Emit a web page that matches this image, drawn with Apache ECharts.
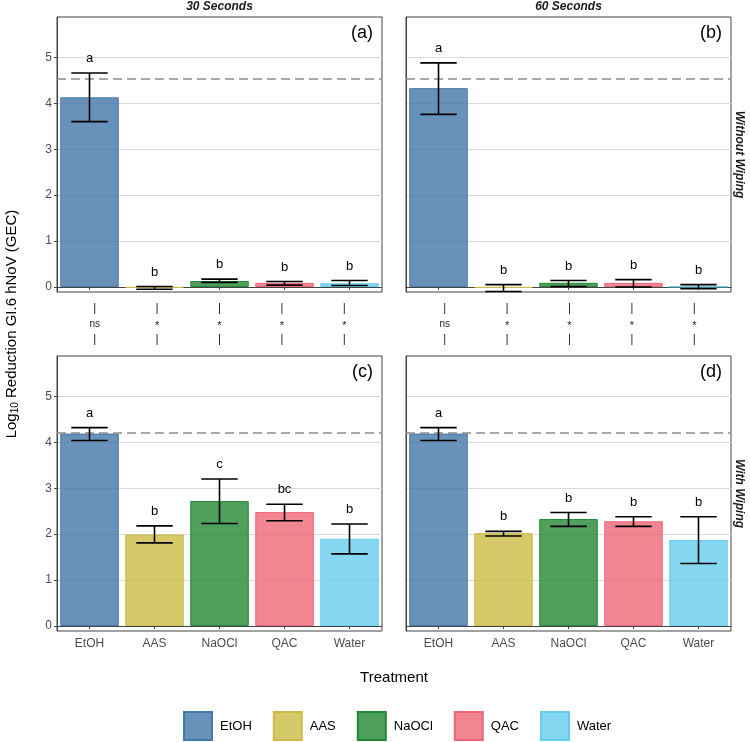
<!DOCTYPE html>
<html><head><meta charset="utf-8">
<script src="https://cdn.jsdelivr.net/npm/echarts@6/dist/echarts.min.js"></script>
<style>html,body{margin:0;padding:0;background:#fff}#c{width:750px;height:742px}</style>
</head><body><div id="c"></div>
<script>
// ---------------- data ----------------
const categories = ['EtOH', 'AAS', 'NaOCl', 'QAC', 'Water'];
const yTicks = [0, 1, 2, 3, 4, 5];

// (a) 30 Seconds, Without Wiping
const meanA = [4.13, -0.02, 0.13, 0.09, 0.08];
const lowA  = [3.60, -0.05, 0.10, 0.04, 0.03];
const highA = [4.66, 0.01, 0.17, 0.12, 0.14];
const letA  = ['a', 'b', 'b', 'b', 'b'];
// (b) 60 Seconds, Without Wiping
const meanB = [4.33, -0.02, 0.09, 0.09, 0.01];
const lowB  = [3.76, -0.10, 0.01, 0.00, -0.04];
const highB = [4.88, 0.05, 0.14, 0.16, 0.05];
const letB  = ['a', 'b', 'b', 'b', 'b'];
// (c) 30 Seconds, With Wiping
const meanC = [4.19, 1.99, 2.72, 2.48, 1.90];
const lowC  = [4.04, 1.81, 2.23, 2.29, 1.57];
const highC = [4.32, 2.18, 3.20, 2.65, 2.22];
const letC  = ['a', 'b', 'c', 'bc', 'b'];
// (d) 60 Seconds, With Wiping
const meanD = [4.19, 2.02, 2.33, 2.28, 1.87];
const lowD  = [4.04, 1.96, 2.17, 2.17, 1.36];
const highD = [4.32, 2.06, 2.47, 2.38, 2.38];
const letD  = ['a', 'b', 'b', 'b', 'b'];

// dashed reference lines
const refWithout = 4.53;
const refWith = 4.20;

// significance between Without / With wiping
const sig30 = ['ns', '*', '*', '*', '*'];
const sig60 = ['ns', '*', '*', '*', '*'];

const colTitles = ['30 Seconds', '60 Seconds'];
const rowTitles = ['Without Wiping', 'With Wiping'];
const panelTags = ['(a)', '(b)', '(c)', '(d)'];

// ---------------- styling ----------------
const lineColors = ['#4477AA', '#CCBB44', '#228833', '#EE6677', '#66CCEE'];
const fillColors = ['rgba(68,119,170,0.8)', 'rgba(204,187,68,0.8)', 'rgba(34,136,51,0.8)', 'rgba(238,102,119,0.8)', 'rgba(102,204,238,0.8)'];
const FONT = '"Liberation Sans", Arial, sans-serif';

const panels = [
  { left: 57,  top: 17,  mean: meanA, low: lowA, high: highA, lets: letA, ref: refWithout, ylab: true,  xlab: false },
  { left: 406, top: 17,  mean: meanB, low: lowB, high: highB, lets: letB, ref: refWithout, ylab: false, xlab: false },
  { left: 57,  top: 356, mean: meanC, low: lowC, high: highC, lets: letC, ref: refWith,    ylab: true,  xlab: true },
  { left: 406, top: 356, mean: meanD, low: lowD, high: highD, lets: letD, ref: refWith,    ylab: false, xlab: true }
];
const PW = 325, PH = 275;

const grid = [], xAxis = [], yAxis = [], series = [];

panels.forEach((p, k) => {
  grid.push({ left: p.left, top: p.top, width: PW, height: PH, show: true, borderColor: '#444', borderWidth: 1, containLabel: false });
  xAxis.push({
    gridIndex: k, type: 'category', data: categories,
    axisLine: { show: true, lineStyle: { color: '#444', width: 1 } },
    axisTick: { show: true, alignWithLabel: true, length: 3, lineStyle: { color: '#444' } },
    axisLabel: { show: p.xlab, color: '#4d4d4d', fontSize: 12, margin: 7, fontFamily: FONT },
    splitLine: { show: false }
  });
  yAxis.push({
    gridIndex: k, type: 'value', min: -0.11, max: 5.88,
    axisLine: { show: true, lineStyle: { color: '#444', width: 1 } },
    axisTick: { show: p.ylab, length: 3, customValues: yTicks, lineStyle: { color: '#444' } },
    axisLabel: { show: p.ylab, customValues: yTicks, color: '#4d4d4d', fontSize: 12, margin: 5, fontFamily: FONT },
    splitLine: { show: true, lineStyle: { color: '#d9d9d9', width: 1 } }
  });
  categories.forEach((name, j) => {
    const s = {
      type: 'bar', name: name, xAxisIndex: k, yAxisIndex: k,
      data: categories.map((c, i) => (i === j ? p.mean[i] : '-')),
      barWidth: '90%', barGap: '-100%',
      itemStyle: { color: fillColors[j], borderColor: lineColors[j], borderWidth: 1 },
      silent: true, z: 2
    };
    if (j === 0) {
      s.markLine = {
        silent: true, symbol: 'none', label: { show: false },
        lineStyle: { type: [9, 5], color: '#8c8c8c', width: 1.5 },
        data: [{ yAxis: p.ref }], z: 3
      };
    }
    series.push(s);
  });
  const lets = p.lets;
  series.push({
    type: 'custom', xAxisIndex: k, yAxisIndex: k, z: 5, silent: true,
    data: categories.map((c, i) => [i, p.low[i], p.high[i]]),
    renderItem: function (params, api) {
      const i = api.value(0);
      const lo = api.coord([i, api.value(1)]);
      const hi = api.coord([i, api.value(2)]);
      const half = api.size([1, 0])[0] * 0.28;
      const st = { stroke: '#000', lineWidth: 1.6 };
      return {
        type: 'group',
        children: [
          { type: 'line', shape: { x1: lo[0], y1: lo[1], x2: hi[0], y2: hi[1] }, style: st },
          { type: 'line', shape: { x1: hi[0] - half, y1: hi[1], x2: hi[0] + half, y2: hi[1] }, style: st },
          { type: 'line', shape: { x1: lo[0] - half, y1: lo[1], x2: lo[0] + half, y2: lo[1] }, style: st },
          { type: 'text', style: { text: lets[params.dataIndex], x: hi[0], y: hi[1] - 14.5, align: 'center', verticalAlign: 'middle', font: '13px ' + FONT, fill: '#000' } }
        ]
      };
    }
  });
});

// significance strips between rows
[{ left: 63.5, sig: sig30 }, { left: 413.5, sig: sig60 }].forEach((s, m) => {
  const k = grid.length;
  grid.push({ left: s.left, top: 300, width: 312, height: 48, show: false });
  xAxis.push({ gridIndex: k, type: 'category', data: categories, show: false });
  yAxis.push({ gridIndex: k, type: 'value', min: 0, max: 1, show: false });
  const sig = s.sig;
  series.push({
    type: 'custom', xAxisIndex: k, yAxisIndex: k, silent: true,
    data: categories.map((c, i) => [i, 0.5]),
    renderItem: function (params, api) {
      const c = api.coord([api.value(0), api.value(1)]);
      const st = { stroke: '#333', lineWidth: 1 };
      const t = sig[params.dataIndex];
      return {
        type: 'group',
        children: [
          { type: 'line', shape: { x1: c[0], y1: c[1] - 21, x2: c[0], y2: c[1] - 10 }, style: st },
          { type: 'line', shape: { x1: c[0], y1: c[1] + 10, x2: c[0], y2: c[1] + 21 }, style: st },
          { type: 'text', style: { text: t, x: c[0], y: c[1] + (t === '*' ? 2 : 0), align: 'center', verticalAlign: 'middle', font: (t === '*' ? '11px ' : '10px ') + FONT, fill: '#222' } }
        ]
      };
    }
  });
});

const graphic = [];
// column strip titles
colTitles.forEach((t, m) => {
  graphic.push({ type: 'text', x: panels[m].left + PW / 2, y: 7, style: { text: t, align: 'center', verticalAlign: 'middle', font: 'italic bold 12px ' + FONT, fill: '#1a1a1a' } });
});
// row strip titles
rowTitles.forEach((t, r) => {
  graphic.push({ type: 'text', x: 739, y: panels[r * 2].top + PH / 2, rotation: -Math.PI / 2, style: { text: t, align: 'center', verticalAlign: 'middle', font: 'italic bold 12px ' + FONT, fill: '#1a1a1a' } });
});
// panel tags
panels.forEach((p, k) => {
  graphic.push({ type: 'text', x: p.left + PW - 9, y: p.top + 16.5, style: { text: panelTags[k], align: 'right', verticalAlign: 'middle', font: '18px ' + FONT, fill: '#000' } });
});
// axis titles
graphic.push({ type: 'text', x: 394, y: 678, style: { text: 'Treatment', align: 'center', verticalAlign: 'middle', font: '15px ' + FONT, fill: '#000' } });
graphic.push({
  type: 'text', x: 12, y: 324, rotation: Math.PI / 2,
  style: {
    text: 'Log{s|10} Reduction GI.6 hNoV (GEC)', align: 'center', verticalAlign: 'middle',
    font: '15px ' + FONT, fill: '#000',
    rich: { s: { fontSize: 10, fontFamily: FONT, fill: '#000', verticalAlign: 'bottom', padding: [7, 0, 0, 0] } }
  }
});

const chart = echarts.init(document.getElementById('c'), null, { renderer: 'canvas' });
chart.setOption({
  animation: false,
  backgroundColor: '#fff',
  textStyle: { fontFamily: FONT },
  grid, xAxis, yAxis, series, graphic,
  legend: {
    data: categories, left: 183, top: 711, padding: 0,
    itemWidth: 28, itemHeight: 28, itemGap: 21, icon: 'rect',
    textStyle: { fontSize: 13, color: '#000', fontFamily: FONT, padding: [0, 0, 0, 3] },
    selectedMode: false
  }
});
</script>
</body></html>
